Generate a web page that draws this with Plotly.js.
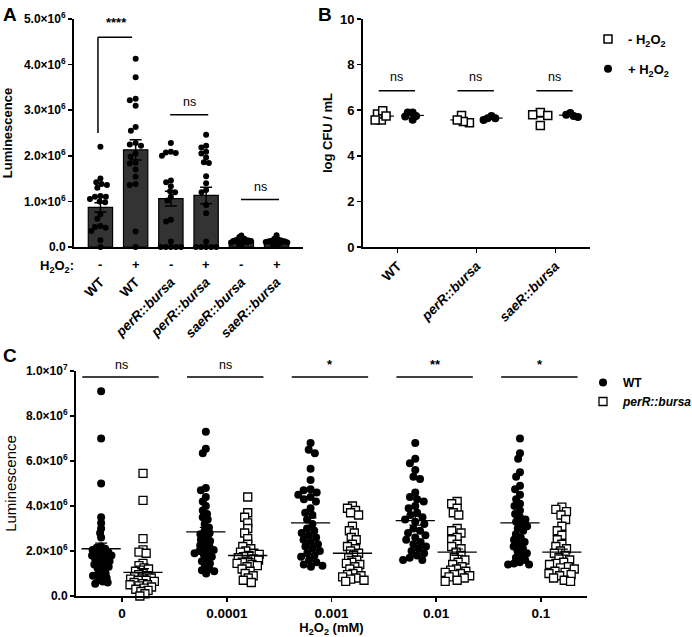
<!DOCTYPE html>
<html>
<head>
<meta charset="utf-8">
<script src="https://cdn.plot.ly/plotly-3.0.1.min.js"></script>
<style>html,body{margin:0;padding:0;background:#fff;overflow:hidden;}#wrap{width:692px;height:637px;overflow:hidden;}</style>
</head>
<body>
<div id="wrap"><div id="plot"></div></div>
<script>
// ---------------- Panel A data ----------------
const aCategories = ['WT', 'WT', '<i>perR::bursa</i>', '<i>perR::bursa</i>', '<i>saeR::bursa</i>', '<i>saeR::bursa</i>'];
const aH2O2 = ['-', '+', '-', '+', '-', '+'];
const aBarMean = [0.87e6, 2.13e6, 1.06e6, 1.13e6, 0.13e6, 0.12e6];
const aBarSEM = [0.10e6, 0.22e6, 0.16e6, 0.18e6, 0.02e6, 0.02e6];
const aWTminus = [2.2, 1.5, 1.42, 1.38, 1.36, 1.3, 1.12, 1.1, 1.1, 1.05, 1.0, 0.98, 0.72, 0.62, 0.46, 0.44, 0.42, 0.35, 0.15, 0.0];
const aWTplus = [4.13, 3.72, 3.25, 3.22, 3.1, 2.63, 2.55, 2.28, 2.25, 2.22, 2.05, 1.98, 1.85, 1.83, 1.7, 1.54, 1.38, 1.36, 0.34, 0.0];
const aPerRminus = [2.28, 2.09, 2.07, 2.06, 2.0, 1.46, 1.42, 1.33, 1.22, 1.2, 1.1, 1.02, 0.6, 0.56, 0.12, 0.0, 0.0, 0.0, 0.0, 0.0];
const aPerRplus = [2.46, 2.22, 2.18, 2.09, 2.05, 1.96, 1.86, 1.84, 1.55, 1.4, 1.25, 1.2, 0.92, 0.74, 0.12, 0.0, 0.0, 0.0, 0.0, 0.0];
const aSaeRminus = [0.25, 0.22, 0.2, 0.18, 0.17, 0.16, 0.15, 0.15, 0.14, 0.14, 0.13, 0.13, 0.12, 0.12, 0.11, 0.1, 0.1, 0.08, 0.06, 0.02];
const aSaeRplus = [0.26, 0.2, 0.18, 0.16, 0.15, 0.14, 0.14, 0.13, 0.13, 0.12, 0.12, 0.11, 0.11, 0.1, 0.1, 0.09, 0.08, 0.06, 0.04, 0.02];
const aYTicks = [0, 1e6, 2e6, 3e6, 4e6, 5e6];
const aYTickText = ['0.0', '1.0×10<sup>6</sup>', '2.0×10<sup>6</sup>', '3.0×10<sup>6</sup>', '4.0×10<sup>6</sup>', '5.0×10<sup>6</sup>'];

// ---------------- Panel B data ----------------
const bCategories = ['WT', '<i>perR::bursa</i>', '<i>saeR::bursa</i>'];
const bMinusH2O2 = [[5.57, 5.83, 5.98, 5.57, 5.75], [5.45, 5.77, 5.5, 5.57], [5.9, 5.77, 5.8, 5.33]];
const bPlusH2O2 = [[5.9, 5.9, 5.58, 5.72, 5.75], [5.57, 5.75, 5.65, 5.65], [5.7, 5.88, 5.75, 5.8]];
const bYTicks = [0, 2, 4, 6, 8, 10];

// ---------------- Panel C data ----------------
const cConc = ['0', '0.0001', '0.001', '0.01', '0.1'];
const cWT = [
  [9.1, 7.0, 5.0, 3.5, 3.25, 3.0, 2.8, 2.6, 2.2, 2.15, 2.1, 2.05, 2.0, 1.95, 1.9, 1.85, 1.8, 1.8, 1.75, 1.7, 1.65, 1.6, 1.55, 1.5, 1.45, 1.4, 1.35, 1.3, 1.25, 1.2, 1.1, 1.0, 0.95, 0.9, 0.85, 0.8, 0.7, 0.65, 0.6, 0.55],
  [7.3, 6.55, 6.35, 4.8, 4.7, 4.4, 4.2, 4.0, 3.8, 3.65, 3.5, 3.4, 3.2, 3.05, 2.9, 2.8, 2.75, 2.6, 2.5, 2.45, 2.35, 2.25, 2.2, 2.1, 2.05, 2.0, 1.95, 1.9, 1.85, 1.75, 1.65, 1.55, 1.45, 1.35, 1.2, 1.15, 1.1, 1.0],
  [6.8, 6.5, 6.35, 5.65, 5.15, 4.75, 4.7, 4.6, 4.5, 4.4, 4.3, 4.2, 3.9, 3.7, 3.6, 3.4, 3.2, 3.0, 2.9, 2.8, 2.7, 2.6, 2.5, 2.4, 2.3, 2.2, 2.1, 2.0, 1.9, 1.8, 1.75, 1.6, 1.5, 1.4, 1.35, 1.3],
  [6.8, 6.1, 5.9, 5.6, 5.3, 5.2, 4.6, 4.4, 4.3, 4.2, 4.0, 3.9, 3.7, 3.6, 3.5, 3.4, 3.3, 3.2, 3.0, 2.9, 2.8, 2.7, 2.6, 2.5, 2.4, 2.3, 2.2, 2.1, 2.0, 1.9, 1.8, 1.7, 1.6, 1.6],
  [7.0, 6.35, 6.1, 5.5, 5.3, 4.9, 4.75, 4.5, 4.3, 4.1, 4.0, 3.8, 3.65, 3.5, 3.4, 3.3, 3.2, 3.1, 3.0, 2.9, 2.75, 2.6, 2.5, 2.4, 2.3, 2.2, 2.1, 2.0, 1.9, 1.8, 1.7, 1.6, 1.5, 1.45, 1.4, 1.4]
];
const cPerR = [
  [5.45, 4.25, 2.55, 2.05, 1.95, 1.9, 1.45, 1.35, 1.25, 1.2, 1.15, 1.1, 1.0, 0.95, 0.9, 0.85, 0.8, 0.8, 0.75, 0.7, 0.7, 0.65, 0.6, 0.55, 0.5, 0.5, 0.45, 0.4, 0.35, 0.3, 0.25, 0.2, 0.1, 0.0],
  [4.4, 3.7, 3.5, 3.25, 3.0, 2.8, 2.55, 2.3, 2.2, 2.1, 2.0, 1.95, 1.9, 1.85, 1.8, 1.75, 1.7, 1.65, 1.6, 1.55, 1.5, 1.45, 1.4, 1.35, 1.3, 1.2, 1.1, 1.0, 0.9, 0.8, 0.7, 0.6],
  [4.0, 3.9, 3.8, 3.7, 3.6, 3.1, 2.9, 2.8, 2.6, 2.5, 2.3, 2.2, 2.1, 2.0, 1.9, 1.8, 1.7, 1.6, 1.5, 1.45, 1.4, 1.3, 1.2, 1.1, 1.0, 0.95, 0.9, 0.85, 0.8, 0.75, 0.7, 0.65],
  [4.2, 4.1, 3.9, 3.7, 3.6, 3.0, 2.9, 2.8, 2.6, 2.5, 2.3, 2.2, 2.1, 1.95, 1.8, 1.7, 1.6, 1.5, 1.4, 1.3, 1.2, 1.15, 1.1, 1.05, 1.0, 0.95, 0.9, 0.85, 0.8, 0.7, 0.65],
  [3.95, 3.85, 3.75, 3.6, 3.4, 3.1, 2.9, 2.7, 2.5, 2.3, 2.2, 2.1, 2.0, 1.9, 1.8, 1.7, 1.6, 1.5, 1.45, 1.4, 1.3, 1.25, 1.2, 1.1, 1.05, 1.0, 0.95, 0.9, 0.8, 0.7, 0.65]
];
const cWTMean = [2.1, 2.85, 3.25, 3.35, 3.25];
const cWTSEM = [0.25, 0.2, 0.22, 0.2, 0.2];
const cPerRMean = [1.05, 1.8, 1.9, 1.95, 1.95];
const cPerRSEM = [0.17, 0.14, 0.14, 0.14, 0.13];
const cSig = ['ns', 'ns', '*', '**', '*'];
const cYTicks = [0, 2e6, 4e6, 6e6, 8e6, 1e7];
const cYTickText = ['0.0', '2.0×10<sup>6</sup>', '4.0×10<sup>6</sup>', '6.0×10<sup>6</sup>', '8.0×10<sup>6</sup>', '1.0×10<sup>7</sup>'];

// ---------------- helpers ----------------
const FONT = 'Liberation Sans, Arial, sans-serif';
// the figure canvas is a bit wider than the visible 692 px window so that the
// legends can sit close to the right edge as in the original figure
const W = 760, H = 637;
function px2x(p) { return p / W; }
function px2y(p) { return 1 - p / H; }

// compact beeswarm in pixel offsets
function swarmPx(values, pxPerY, d) {
  const idx = values.map((v, i) => i).sort((a, b) => values[b] - values[a]);
  const placed = [];
  const offs = new Array(values.length);
  idx.forEach(i => {
    const y = values[i] * pxPerY;
    const intervals = [];
    placed.forEach(p => {
      const dy = Math.abs(p.y - y);
      if (dy < d) { const w = Math.sqrt(d * d - dy * dy); intervals.push([p.x - w, p.x + w]); }
    });
    const cands = [0];
    intervals.forEach(([a, b]) => cands.push(a, b));
    cands.sort((a, b) => Math.abs(a) - Math.abs(b) || a - b);
    let chosen = 0;
    for (const c of cands) {
      if (intervals.every(([a, b]) => c <= a + 1e-6 || c >= b - 1e-6)) { chosen = c; break; }
    }
    placed.push({ x: chosen, y: y });
    offs[i] = chosen;
  });
  return offs;
}
// shrink the spacing until the swarm fits into +-maxW pixels
function swarm(values, center, pxPerX, pxPerY, d, maxW) {
  let dd = d, offs = swarmPx(values, pxPerY, dd);
  for (let k = 0; k < 40 && Math.max(...offs.map(Math.abs)) > maxW; k++) {
    dd *= 0.92;
    offs = swarmPx(values, pxPerY, dd);
  }
  return offs.map(o => center + o / pxPerX);
}
function mean(a) { return a.reduce((s, v) => s + v, 0) / a.length; }

// pixel geometry of each panel
const A = { x0: 74, x1: 303, y0: 19, y1: 247, xr: [-0.75, 5.75], yr: [0, 5e6] };
const B = { x0: 363, x1: 590, y0: 19, y1: 247, xr: [-0.44, 2.44], yr: [0, 10] };
const C = { x0: 76, x1: 587, y0: 371, y1: 596, xr: [-0.44, 4.44], yr: [0, 1e7] };
function scales(P) {
  return { sx: (P.x1 - P.x0) / (P.xr[1] - P.xr[0]), sy: (P.y1 - P.y0) / (P.yr[1] - P.yr[0]) };
}
const sA = scales(A), sB = scales(B), sC = scales(C);

const traces = [];

// ---------------- Panel A traces ----------------
traces.push({
  type: 'bar', x: aCategories.map((c, i) => i), y: aBarMean, width: 0.69,
  marker: { color: '#333333', line: { color: '#000', width: 1.2 } },
  error_y: { type: 'data', array: aBarSEM, visible: true, color: '#000', thickness: 1.5, width: 6 },
  xaxis: 'x', yaxis: 'y', showlegend: false, hoverinfo: 'skip'
});
const aGroups = [aWTminus, aWTplus, aPerRminus, aPerRplus, aSaeRminus, aSaeRplus];
let aX = [], aY = [];
aGroups.forEach((g, i) => {
  const vals = g.map(v => v * 1e6);
  aX = aX.concat(swarm(vals, i, sA.sx, sA.sy, 6, 11));
  aY = aY.concat(vals);
});
traces.push({
  type: 'scatter', mode: 'markers', x: aX, y: aY, xaxis: 'x', yaxis: 'y',
  marker: { symbol: 'circle', size: 6, color: '#000' }, cliponaxis: false, showlegend: false, hoverinfo: 'skip'
});

// ---------------- Panel B traces ----------------
function buildB(groups, off) {
  let xs = [], ys = [];
  groups.forEach((g, i) => { xs = xs.concat(swarm(g, i + off, sB.sx, sB.sy, 8, 8)); ys = ys.concat(g); });
  return { xs, ys };
}
const bm = buildB(bMinusH2O2, -0.19), bp = buildB(bPlusH2O2, 0.19);
traces.push({
  type: 'scatter', mode: 'markers', x: bMinusH2O2.map((g, i) => i - 0.19), y: bMinusH2O2.map(mean),
  xaxis: 'x2', yaxis: 'y2', marker: { symbol: 'line-ew', size: 16, line: { color: '#000', width: 1.2 } },
  showlegend: false, hoverinfo: 'skip'
});
traces.push({
  type: 'scatter', mode: 'markers', x: bm.xs, y: bm.ys, xaxis: 'x2', yaxis: 'y2', name: '- H<sub>2</sub>O<sub>2</sub>',
  marker: { symbol: 'square', size: 8, color: '#fff', line: { color: '#000', width: 1.5 } },
  legend: 'legend', legendgroup: 'm', hoverinfo: 'skip'
});
traces.push({
  type: 'scatter', mode: 'markers', x: bp.xs, y: bp.ys, xaxis: 'x2', yaxis: 'y2', name: '+ H<sub>2</sub>O<sub>2</sub>',
  marker: { symbol: 'circle', size: 8, color: '#000' }, legend: 'legend', legendgroup: 'p', hoverinfo: 'skip'
});
traces.push({
  type: 'scatter', mode: 'markers', x: bPlusH2O2.map((g, i) => i + 0.19), y: bPlusH2O2.map(mean),
  xaxis: 'x2', yaxis: 'y2', marker: { symbol: 'line-ew', size: 16, line: { color: '#000', width: 1.2 } },
  showlegend: false, hoverinfo: 'skip'
});

// ---------------- Panel C traces ----------------
function buildC(groups, off) {
  let xs = [], ys = [];
  groups.forEach((g, i) => {
    const vals = g.map(v => v * 1e6);
    xs = xs.concat(swarm(vals, i + off, sC.sx, sC.sy, 7, 13));
    ys = ys.concat(vals);
  });
  return { xs, ys };
}
const cw = buildC(cWT, -0.2), cp = buildC(cPerR, 0.2);
traces.push({
  type: 'scatter', mode: 'markers', x: cw.xs, y: cw.ys, xaxis: 'x3', yaxis: 'y3', name: 'WT',
  marker: { symbol: 'circle', size: 8, color: '#000' }, legend: 'legend2', cliponaxis: false, hoverinfo: 'skip'
});
traces.push({
  type: 'scatter', mode: 'markers', x: cp.xs, y: cp.ys, xaxis: 'x3', yaxis: 'y3', name: '<i>perR::bursa</i>',
  marker: { symbol: 'square', size: 8, color: '#fff', line: { color: '#000', width: 1.3 } }, legend: 'legend2', cliponaxis: false, hoverinfo: 'skip'
});
traces.push({
  type: 'scatter', mode: 'markers', x: cConc.map((c, i) => i - 0.2), y: cWTMean.map(v => v * 1e6),
  error_y: { type: 'data', array: cWTSEM.map(v => v * 1e6), color: '#000', thickness: 1.2, width: 6 },
  xaxis: 'x3', yaxis: 'y3', marker: { symbol: 'line-ew', size: 28, line: { color: '#000', width: 1.3 } },
  showlegend: false, hoverinfo: 'skip'
});
traces.push({
  type: 'scatter', mode: 'markers', x: cConc.map((c, i) => i + 0.2), y: cPerRMean.map(v => v * 1e6),
  error_y: { type: 'data', array: cPerRSEM.map(v => v * 1e6), color: '#000', thickness: 1.2, width: 6 },
  xaxis: 'x3', yaxis: 'y3', marker: { symbol: 'line-ew', size: 28, line: { color: '#000', width: 1.3 } },
  showlegend: false, hoverinfo: 'skip'
});

// ---------------- annotations & shapes ----------------
const bold12 = { family: FONT, size: 12, color: '#000', weight: 'bold' };
const bold13 = { family: FONT, size: 13, color: '#000', weight: 'bold' };
const reg12 = { family: FONT, size: 12.5, color: '#000' };
const annotations = [];
const shapes = [];
const line = (xref, yref, x0, y0, x1, y1) => ({ type: 'line', xref, yref, x0, y0, x1, y1, line: { color: '#000', width: 1.5 } });

// panel letters
const letterFont = { family: FONT, size: 19, color: '#000', weight: 'bold' };
annotations.push({ text: 'A', xref: 'paper', yref: 'paper', x: px2x(1), y: px2y(2), xanchor: 'left', yanchor: 'top', showarrow: false, font: letterFont });
annotations.push({ text: 'B', xref: 'paper', yref: 'paper', x: px2x(316), y: px2y(2), xanchor: 'left', yanchor: 'top', showarrow: false, font: letterFont });
annotations.push({ text: 'C', xref: 'paper', yref: 'paper', x: px2x(1), y: px2y(343), xanchor: 'left', yanchor: 'top', showarrow: false, font: letterFont });

// Panel A: H2O2 row
annotations.push({ text: 'H<sub>2</sub>O<sub>2</sub>:', xref: 'paper', yref: 'paper', x: px2x(76), y: px2y(266), xanchor: 'right', yanchor: 'middle', showarrow: false, font: bold13 });
aH2O2.forEach((s, i) => annotations.push({ text: s, xref: 'x', yref: 'paper', x: i, y: px2y(265), xanchor: 'center', yanchor: 'middle', showarrow: false, font: bold13 }));
// Panel A significance
shapes.push(line('x', 'y', -0.07, 2.5e6, -0.07, 4.6e6));
shapes.push(line('x', 'y', -0.07, 4.6e6, 0.9, 4.6e6));
annotations.push({ text: '****', xref: 'x', yref: 'y', x: 0.45, y: 4.72e6, xanchor: 'center', yanchor: 'bottom', showarrow: false, font: bold13 });
shapes.push(line('x', 'y', 1.98, 2.9e6, 3.06, 2.9e6));
annotations.push({ text: 'ns', xref: 'x', yref: 'y', x: 2.52, y: 2.98e6, xanchor: 'center', yanchor: 'bottom', showarrow: false, font: reg12 });
shapes.push(line('x', 'y', 3.99, 1.04e6, 5.07, 1.04e6));
annotations.push({ text: 'ns', xref: 'x', yref: 'y', x: 4.53, y: 1.12e6, xanchor: 'center', yanchor: 'bottom', showarrow: false, font: reg12 });

// Panel B significance
bCategories.forEach((c, i) => {
  shapes.push(line('x2', 'y2', i - 0.24, 6.85, i + 0.22, 6.85));
  annotations.push({ text: 'ns', xref: 'x2', yref: 'y2', x: i - 0.01, y: 7.05, xanchor: 'center', yanchor: 'bottom', showarrow: false, font: reg12 });
});

// Panel C significance
cSig.forEach((s, i) => {
  shapes.push(line('x3', 'y3', i - 0.38, 9.73e6, i + 0.35, 9.73e6));
  annotations.push({ text: s, xref: 'x3', yref: 'y3', x: i - 0.01, y: 9.85e6, xanchor: 'center', yanchor: 'bottom', showarrow: false, font: s === 'ns' ? reg12 : bold13 });
});

const axBase = {
  showline: true, linecolor: '#000', linewidth: 2, showgrid: false, zeroline: false,
  ticks: 'outside', ticklen: 4, tickwidth: 1.5, tickcolor: '#000', tickfont: bold12, fixedrange: true
};

const layout = {
  width: W, height: H, margin: { l: 0, r: 0, t: 0, b: 0 },
  paper_bgcolor: '#fff', plot_bgcolor: 'rgba(0,0,0,0)', font: { family: FONT, color: '#000' },
  showlegend: true,
  xaxis: Object.assign({}, axBase, {
    domain: [px2x(A.x0), px2x(A.x1)], range: A.xr, anchor: 'y', ticks: '',
    tickmode: 'array', tickvals: aCategories.map((c, i) => i), ticktext: aCategories, tickangle: -45,
    ticklabelstandoff: 20, tickfont: { family: FONT, size: 13.5, color: '#000', weight: 'bold' }
  }),
  yaxis: Object.assign({}, axBase, {
    domain: [px2y(A.y1), px2y(A.y0)], range: A.yr, anchor: 'x',
    tickmode: 'array', tickvals: aYTicks, ticktext: aYTickText,
    title: { text: 'Luminescence', font: { family: FONT, size: 13, color: '#000', weight: 'bold' }, standoff: 8 }
  }),
  xaxis2: Object.assign({}, axBase, {
    domain: [px2x(B.x0), px2x(B.x1)], range: B.xr, anchor: 'y2',
    tickmode: 'array', tickvals: [0, 1, 2], ticktext: bCategories, tickangle: -45,
    tickfont: { family: FONT, size: 13.5, color: '#000', weight: 'bold' }
  }),
  yaxis2: Object.assign({}, axBase, {
    domain: [px2y(B.y1), px2y(B.y0)], range: B.yr, anchor: 'x2',
    tickmode: 'array', tickvals: bYTicks, tickfont: bold13,
    title: { text: 'log CFU / mL', font: { family: FONT, size: 13, color: '#000', weight: 'bold' }, standoff: 4 }
  }),
  xaxis3: Object.assign({}, axBase, {
    domain: [px2x(C.x0), px2x(C.x1)], range: C.xr, anchor: 'y3',
    tickmode: 'array', tickvals: cConc.map((c, i) => i), ticktext: cConc, tickangle: 0,
    tickfont: { family: FONT, size: 13.5, color: '#000', weight: 'bold' },
    title: { text: 'H<sub>2</sub>O<sub>2</sub> (mM)', font: { family: FONT, size: 13, color: '#000', weight: 'bold' }, standoff: 5 }
  }),
  yaxis3: Object.assign({}, axBase, {
    domain: [px2y(C.y1), px2y(C.y0)], range: C.yr, anchor: 'x3',
    tickmode: 'array', tickvals: cYTicks, ticktext: cYTickText,
    title: { text: 'Luminescence', font: { family: FONT, size: 15, color: '#000' }, standoff: 6 }
  }),
  legend: {
    x: px2x(588), y: px2y(24), xanchor: 'left', yanchor: 'top', bgcolor: 'rgba(0,0,0,0)',
    font: { family: FONT, size: 13, color: '#000', weight: 'bold' }, itemwidth: 30, tracegroupgap: 10
  },
  legend2: {
    x: px2x(583), y: px2y(368), xanchor: 'left', yanchor: 'top', bgcolor: 'rgba(0,0,0,0)',
    font: { family: FONT, size: 12, color: '#000', weight: 'bold' }, itemwidth: 30, tracegroupgap: 0
  },
  annotations: annotations,
  shapes: shapes
};

Plotly.newPlot('plot', traces, layout, { displayModeBar: false, staticPlot: true });
</script>
</body>
</html>
